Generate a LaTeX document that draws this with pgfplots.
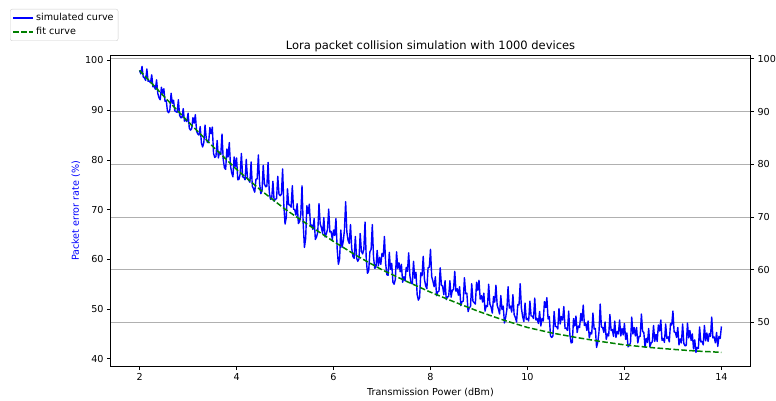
\documentclass[border=0pt]{standalone}
\usepackage{pgfplots}
\pgfplotsset{compat=1.18}
\usepackage{fontspec}
\setmainfont{DejaVu Sans}
\definecolor{gridgray}{HTML}{B0B0B0}
\definecolor{fitgreen}{HTML}{008000}
\definecolor{legframe}{HTML}{CCCCCC}
\begin{document}
\begin{tikzpicture}[x=1pt,y=1pt]
\path[use as bounding box] (0,0) rectangle (776,-401);
% right axis (grid + right ticks)
\begin{axis}[
  at={(110.5pt,-366.5pt)}, anchor=south west,
  width=640pt, height=311pt, scale only axis,
  xmin=1.4, xmax=14.6, ymin=41.65, ymax=100.63,
  xtick=\empty,
  ytick={50,60,70,80,90,100},
  ytick pos=right, yticklabel pos=right,
  tick align=outside, major tick length=3.5pt,
  ymajorgrids, grid style={gridgray, line width=0.8pt},
  axis line style={black, line width=0.8pt},
  every tick/.style={black, line width=0.8pt},
  /pgf/number format/assume math mode=true,
  ticklabel style={font=\fontsize{9.6}{11}\selectfont},
]
\end{axis}
% left axis with data
\begin{axis}[
  at={(110.5pt,-366.5pt)}, anchor=south west,
  width=640pt, height=311pt, scale only axis,
  xmin=1.4, xmax=14.6, ymin=38.45, ymax=101.0,
  xtick={2,4,6,8,10,12,14},
  ytick={40,50,60,70,80,90,100},
  ytick pos=left, xtick pos=bottom,
  tick align=outside, major tick length=3.5pt,
  axis line style={black, line width=0.8pt},
  every tick/.style={black, line width=0.8pt},
  /pgf/number format/assume math mode=true,
  ticklabel style={font=\fontsize{9.6}{11}\selectfont},
  xlabel={Transmission Power (dBm)},
  ylabel={Packet error rate (\%)},
  xlabel style={font=\fontsize{9.6}{11}\selectfont, at={(axis description cs:0.5,0)}, anchor=center, yshift=-26pt},
  ylabel style={font=\fontsize{9.6}{11}\selectfont, color=blue, at={(axis description cs:-0.054,0.5)}, anchor=center},
  title={Lora packet collision simulation with 1000 devices},
  title style={font=\fontsize{11.5}{13}\selectfont, at={(axis description cs:0.5,1)}, anchor=south, inner sep=0pt, yshift=-3pt},
  legend style={at={(axis description cs:-0.157,1.1495)}, anchor=north west,
    draw=legframe, rounded corners=2pt, font=\fontsize{9.6}{11}\selectfont,
    row sep=1pt, inner sep=2.5pt, cells={anchor=west}},
  legend image code/.code={\draw[#1] (0pt,0pt) -- (20pt,0pt);},
]
\addplot[blue, line width=1.4pt, line join=round] table[row sep=\\, header=false, x expr=2+0.025*\coordindex, y index=0] {
98.0\\97.3\\98.8\\96.7\\96.5\\96.0\\98.3\\95.8\\95.9\\95.5\\97.1\\94.7\\94.9\\94.2\\96.1\\93.4\\92.5\\92.1\\94.6\\93.4\\
94.3\\91.8\\91.9\\89.8\\89.5\\90.1\\93.4\\91.4\\92.0\\89.9\\89.7\\89.6\\92.1\\89.0\\88.5\\88.5\\90.3\\87.8\\88.1\\87.7\\
89.4\\86.4\\86.0\\86.3\\88.5\\87.4\\89.1\\85.8\\85.2\\85.0\\86.7\\83.4\\82.6\\83.5\\87.0\\84.3\\83.5\\83.6\\86.5\\85.3\\
86.6\\81.3\\80.5\\80.7\\83.9\\80.4\\81.6\\81.1\\85.2\\80.1\\78.4\\78.1\\82.2\\80.6\\83.5\\78.8\\77.4\\76.6\\80.6\\78.7\\
80.4\\76.0\\76.1\\77.2\\81.3\\76.6\\76.5\\76.0\\80.1\\76.3\\75.9\\75.5\\79.6\\74.7\\74.2\\73.5\\76.1\\76.2\\81.0\\75.3\\
73.2\\73.8\\78.9\\75.2\\74.6\\74.7\\79.5\\73.5\\72.1\\72.2\\75.7\\71.7\\72.1\\72.2\\76.7\\73.1\\72.8\\73.1\\78.2\\70.9\\
67.1\\68.4\\74.2\\71.0\\70.9\\70.5\\74.8\\70.1\\70.0\\68.9\\71.2\\67.2\\67.6\\69.0\\74.8\\67.0\\62.4\\64.2\\70.8\\69.2\\
71.1\\66.7\\66.9\\66.0\\68.2\\64.0\\64.5\\65.5\\71.2\\67.1\\66.4\\65.2\\68.4\\64.5\\65.1\\66.0\\70.1\\65.5\\65.6\\64.0\\
65.9\\64.8\\68.2\\62.1\\59.0\\60.1\\65.9\\62.4\\63.6\\65.9\\71.6\\65.5\\63.8\\63.2\\67.0\\62.2\\60.6\\60.2\\64.6\\60.3\\
59.6\\60.1\\65.2\\61.6\\61.1\\62.0\\67.5\\60.0\\57.2\\57.7\\61.5\\62.0\\67.0\\60.4\\58.2\\58.4\\61.8\\58.7\\60.4\\59.0\\
61.2\\60.6\\64.6\\59.2\\56.9\\56.8\\61.4\\58.0\\59.2\\55.4\\55.0\\56.0\\61.5\\58.2\\59.3\\57.5\\59.0\\55.4\\56.5\\55.7\\
58.4\\57.6\\61.3\\56.7\\55.2\\55.1\\59.6\\56.2\\57.4\\52.9\\51.8\\52.3\\57.3\\56.7\\60.6\\56.0\\54.7\\54.1\\58.3\\58.4\\
62.0\\56.5\\55.6\\54.5\\56.5\\52.7\\53.5\\53.6\\58.3\\54.8\\54.6\\52.9\\55.7\\51.9\\52.5\\52.5\\55.7\\52.4\\53.8\\53.9\\
57.6\\53.6\\54.1\\52.8\\54.5\\50.7\\51.5\\51.6\\56.3\\53.1\\53.2\\49.5\\50.3\\50.5\\55.1\\51.6\\51.3\\51.0\\55.4\\53.8\\
55.8\\52.0\\52.7\\51.4\\53.2\\49.6\\50.7\\50.5\\55.0\\51.0\\50.4\\49.2\\52.5\\51.4\\54.8\\50.8\\50.0\\49.0\\52.7\\49.9\\
50.6\\47.2\\48.3\\49.9\\54.5\\50.2\\50.6\\49.4\\52.9\\48.9\\48.3\\47.4\\50.9\\50.8\\55.1\\50.2\\48.5\\47.5\\51.2\\47.9\\
48.1\\47.6\\51.6\\48.6\\48.6\\48.1\\52.2\\47.8\\48.1\\47.1\\49.5\\46.6\\48.1\\47.6\\51.5\\50.3\\52.3\\48.0\\48.5\\44.6\\
44.3\\44.6\\49.5\\46.5\\46.5\\46.0\\50.1\\47.0\\48.5\\47.8\\50.5\\46.1\\46.2\\45.7\\49.6\\44.8\\43.2\\43.3\\48.1\\46.6\\
48.6\\45.3\\46.6\\46.3\\49.1\\47.6\\50.8\\46.7\\47.2\\45.7\\47.6\\44.2\\45.3\\45.0\\49.2\\46.0\\46.1\\42.3\\43.3\\45.4\\
51.0\\46.4\\46.3\\45.3\\47.4\\43.9\\45.0\\44.6\\48.9\\45.7\\45.9\\44.5\\47.6\\44.3\\45.5\\45.0\\47.8\\44.6\\46.1\\44.8\\
47.1\\43.9\\45.2\\42.4\\42.7\\43.2\\48.4\\45.0\\46.3\\44.6\\46.3\\43.2\\44.5\\44.5\\49.0\\45.5\\45.3\\42.3\\44.1\\43.3\\
46.1\\42.4\\43.2\\43.4\\46.7\\43.5\\44.9\\43.5\\46.8\\45.6\\47.8\\43.7\\44.1\\43.3\\47.0\\44.1\\44.4\\43.4\\47.1\\46.8\\
49.6\\45.4\\45.3\\44.3\\46.3\\42.8\\44.0\\43.2\\47.0\\43.1\\42.6\\42.7\\47.2\\44.2\\45.7\\43.7\\45.0\\42.0\\43.8\\41.3\\
42.3\\42.1\\46.4\\43.4\\43.5\\42.8\\46.7\\43.6\\45.2\\43.5\\45.1\\44.5\\48.4\\44.2\\44.4\\43.2\\45.3\\42.5\\44.5\\44.1\\
46.5\\
};
\addlegendentry{simulated curve}
\addplot[fitgreen, line width=1.5pt, dash pattern=on 5.55pt off 2.4pt] coordinates {
(2.0,98.0)(2.5,92.8)(3.0,87.7)(3.5,82.8)(4.0,78.1)(4.5,73.9)(5.0,70.1)(5.5,66.8)
(6.0,63.6)(6.5,60.6)(7.0,57.9)(7.5,55.6)(8.0,53.4)(8.5,51.4)(9.0,49.5)(9.5,47.8)
(10.0,46.3)(10.5,45.2)(11.0,44.3)(11.5,43.5)(12.0,42.8)(12.5,42.3)(13.0,41.9)
(13.5,41.55)(14.0,41.3)
};
\addlegendentry{fit curve}
\end{axis}
\end{tikzpicture}
\end{document}
